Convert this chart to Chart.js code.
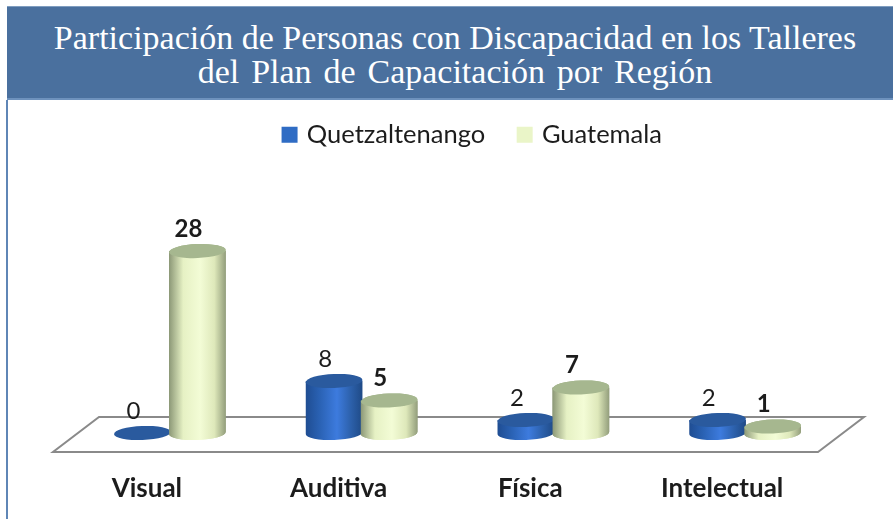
<!DOCTYPE html>
<html>
<head>
<meta charset="utf-8">
<script src="https://cdn.jsdelivr.net/npm/chart.js@4/dist/chart.umd.js"></script>
<style>
    html, body { margin: 0; padding: 0; background: #fff; overflow: hidden; }
    #wrap { position: relative; width: 893px; height: 519px; overflow: hidden; }
    #banner {
        position: absolute; left: 7px; top: 6px; width: 886px; height: 94px;
        box-sizing: border-box; padding: 14px 0 0 10px;
        background: #4a709e; border-top: 1px solid #7f9dc0; border-bottom: 2px solid #6e92bd;
        color: #fff; text-align: center;
        font-family: "Liberation Serif", serif; font-size: 34px; line-height: 34px;
    }
    #banner span { word-spacing: 3.4px; }
    #edge { position: absolute; left: 6px; top: 100px; width: 2px; height: 419px; background: #5f86b6; }
    canvas { position: absolute; left: 0; top: 0; }
</style>
</head>
<body>
<div id="wrap">
    <canvas id="tallerChart" width="893" height="519"></canvas>
    <div id="banner">Participación de Personas con Discapacidad en los Talleres<br><span>del Plan de Capacitación por Región</span></div>
    <div id="edge"></div>
</div>
<script>
const categories = ['Visual', 'Auditiva', 'Física', 'Intelectual'];
const quetzaltenango = [0, 8, 2, 2];
const guatemala = [28, 5, 7, 1];

const FONT = 'Lato, "Open Sans", sans-serif';
const tones = {
    blue: { stops: ['#1f4d92', '#2a62b4', '#3d7bde', '#2c60aa', '#1f4a86'], cap: '#2a5a9e' },
    pale: { stops: ['#8c9877', '#e6f1c4', '#f3fcd6', '#dee8ba', '#939e7c'], cap: '#a6b78f' }
};

// cylinder shaped bar, keeps the geometry the bar controller gives it
class Cylinder extends Chart.BarElement {
    draw(ctx) {
        const { x, y, base, width } = this.getProps(['x', 'y', 'base', 'width']);
        const tone = tones[this.options.tone];
        const rx = width / 2;
        const ry = 7;
        const tilt = -0.04;
        ctx.save();
        if (base - y > 0.5) {
            const g = ctx.createLinearGradient(x - rx, 0, x + rx, 0);
            tone.stops.forEach((c, i) => g.addColorStop([0, 0.25, 0.55, 0.8, 1][i], c));
            ctx.fillStyle = g;
            ctx.beginPath();
            ctx.moveTo(x - rx, y);
            ctx.lineTo(x - rx, base);
            ctx.ellipse(x, base, rx, ry, tilt, Math.PI, 0, true);
            ctx.lineTo(x + rx, y);
            ctx.closePath();
            ctx.fill();
        }
        ctx.fillStyle = tone.cap;
        ctx.beginPath();
        ctx.ellipse(x, y, rx, ry, tilt, 0, Math.PI * 2);
        ctx.fill();
        ctx.restore();
    }
}
Cylinder.id = 'cylinder';
Cylinder.defaults = { ...Chart.BarElement.defaults, tone: 'blue' };
Cylinder.defaultRoutes = Chart.BarElement.defaultRoutes;

class CylinderController extends Chart.BarController {}
CylinderController.id = 'cylinder';
CylinderController.defaults = { ...Chart.BarController.defaults, dataElementType: 'cylinder' };
CylinderController.overrides = Chart.BarController.overrides;

Chart.register(Cylinder, CylinderController);

// flat plane under the bars
const floorPlugin = {
    id: 'floor',
    beforeDatasetsDraw(chart) {
        const { ctx, chartArea: a } = chart;
        ctx.save();
        ctx.strokeStyle = '#8a8a8a';
        ctx.lineWidth = 2;
        ctx.beginPath();
        ctx.moveTo(a.left - 21, a.bottom + 19);
        ctx.lineTo(a.right - 23, a.bottom + 19);
        ctx.lineTo(a.right + 23, a.bottom - 16);
        ctx.lineTo(a.left + 25, a.bottom - 16);
        ctx.closePath();
        ctx.stroke();
        ctx.restore();
    }
};

// value labels, up and to the left of each cylinder top
const valueLabels = {
    id: 'valueLabels',
    afterDatasetsDraw(chart) {
        const { ctx } = chart;
        // Guatemala has to sit in front, the library draws the first dataset last
        chart.getDatasetMeta(1).controller.draw();
        ctx.save();
        ctx.fillStyle = '#1c1c1c';
        ctx.textAlign = 'center';
        ctx.textBaseline = 'middle';
        chart.data.datasets.forEach((ds, i) => {
            ctx.font = (i === 1 ? 'bold ' : '') + '24px ' + FONT;
            chart.getDatasetMeta(i).data.forEach((el, j) => {
                ctx.fillText(ds.data[j], el.x - 9, el.y - 22);
            });
        });
        ctx.restore();
    }
};

// legend sits right of the plot centre in the original
const legendShift = {
    id: 'legendShift',
    afterLayout(chart) {
        chart.legend.left += 16;
        chart.legend.right += 16;
    }
};

new Chart(document.getElementById('tallerChart').getContext('2d'), {
    type: 'cylinder',
    data: {
        labels: categories,
        datasets: [
            {
                label: 'Quetzaltenango', data: quetzaltenango, clip: false,
                backgroundColor: '#2f6cc4', borderColor: '#2f6cc4', borderWidth: 7, tone: 'blue'
            },
            {
                label: 'Guatemala', data: guatemala, clip: false,
                backgroundColor: '#eaf5c8', borderColor: '#eaf5c8', borderWidth: 7, tone: 'pale'
            }
        ]
    },
    options: {
        responsive: false,
        animation: false,
        layout: { padding: { left: 74, right: 52, top: 87, bottom: 0 } },
        categoryPercentage: 0.574,
        barPercentage: 1.03,
        plugins: {
            title: { display: false },
            tooltip: { enabled: false },
            legend: {
                position: 'top',
                labels: {
                    color: '#1c1c1c',
                    font: { family: FONT, size: 25.5 },
                    boxWidth: 9, boxHeight: 9, padding: 35
                }
            }
        },
        scales: {
            x: {
                grid: { display: false },
                border: { display: false },
                afterFit(scale) { scale.height = 86; },
                ticks: {
                    color: '#1c1c1c',
                    font: { family: FONT, size: 26, weight: 'bold' },
                    padding: 32,
                    labelOffset: -23,
                    maxRotation: 0
                }
            },
            y: { display: false, min: 0, max: 42.4 }
        }
    },
    plugins: [floorPlugin, valueLabels, legendShift]
});
</script>
</body>
</html>
